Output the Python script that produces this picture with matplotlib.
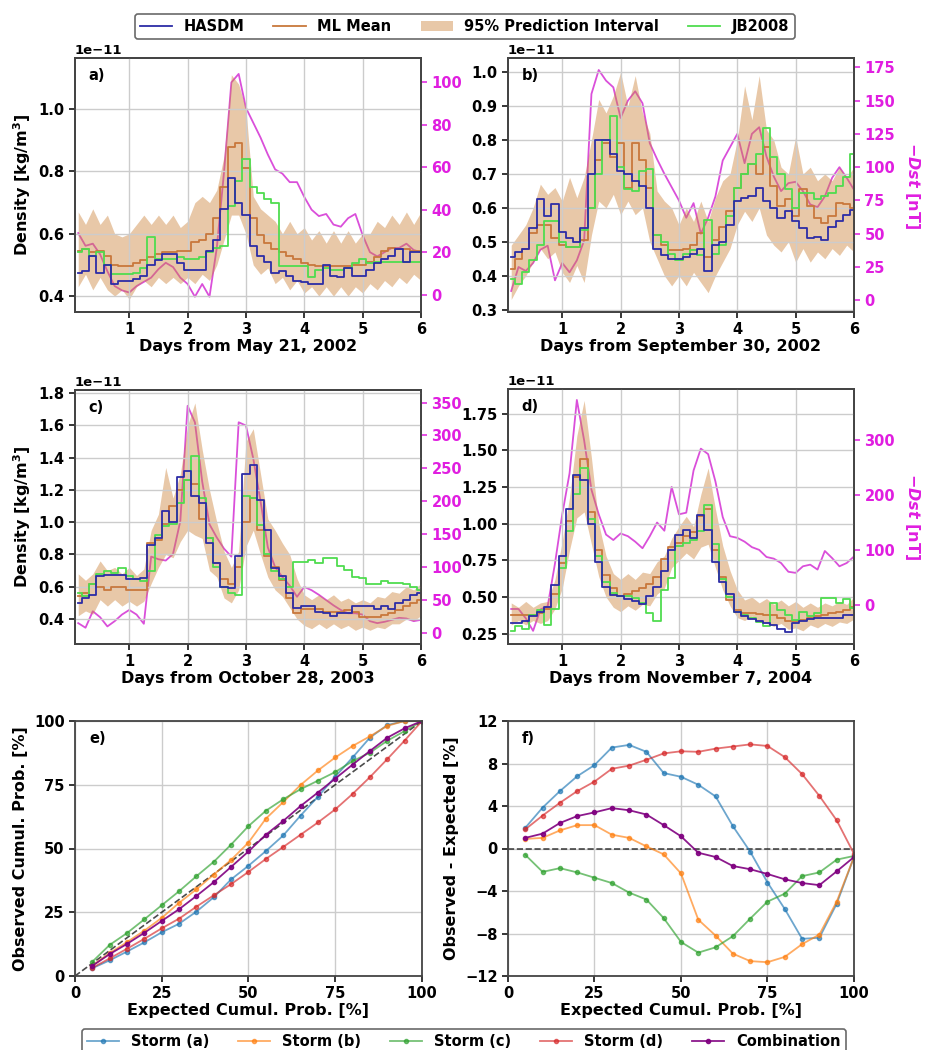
import numpy as np
import matplotlib.pyplot as plt
from matplotlib.lines import Line2D
from matplotlib.patches import Patch

plt.rcParams.update({
    'font.family': 'DejaVu Sans',
    'font.weight': 'bold',
    'axes.labelweight': 'bold',
    'font.size': 10.5,
    'mathtext.fontset': 'custom',
    'mathtext.rm': 'DejaVu Sans:bold',
    'mathtext.it': 'DejaVu Sans:italic:bold',
    'mathtext.bf': 'DejaVu Sans:bold',
})

# 3-hourly time grid (days)
days = np.arange(1, 49) / 8.0

# ---------------- storm a) May 21, 2002 (x1e-11 kg/m3, Dst nT)
hasdm_a = [0.475, 0.48, 0.53, 0.475, 0.50, 0.44, 0.45, 0.45,
           0.455, 0.465, 0.50, 0.515, 0.535, 0.535, 0.505, 0.485,
           0.485, 0.485, 0.545, 0.58, 0.68, 0.78, 0.70, 0.66,
           0.56, 0.53, 0.51, 0.475, 0.48, 0.465, 0.45, 0.445,
           0.44, 0.44, 0.50, 0.465, 0.46, 0.49, 0.465, 0.465,
           0.485, 0.505, 0.52, 0.53, 0.55, 0.51, 0.54, 0.54]
ml_a = [0.545, 0.55, 0.54, 0.545, 0.53, 0.50, 0.495, 0.495,
        0.505, 0.515, 0.525, 0.535, 0.54, 0.54, 0.545, 0.545,
        0.575, 0.58, 0.60, 0.65, 0.75, 0.88, 0.89, 0.81,
        0.65, 0.595, 0.57, 0.55, 0.54, 0.53, 0.52, 0.505,
        0.50, 0.495, 0.495, 0.495, 0.495, 0.495, 0.50, 0.50,
        0.51, 0.525, 0.545, 0.555, 0.55, 0.55, 0.545, 0.545]
jb_a = [0.54, 0.55, 0.53, 0.54, 0.50, 0.47, 0.47, 0.47,
        0.475, 0.49, 0.59, 0.52, 0.52, 0.52, 0.525, 0.52,
        0.52, 0.525, 0.54, 0.555, 0.56, 0.69, 0.77, 0.84,
        0.75, 0.73, 0.71, 0.70, 0.495, 0.495, 0.495, 0.495,
        0.46, 0.485, 0.49, 0.485, 0.485, 0.49, 0.505, 0.52,
        0.505, 0.51, 0.51, 0.51, 0.51, 0.51, 0.51, 0.51]
upper_a = [0.67, 0.63, 0.68, 0.63, 0.66, 0.60, 0.59, 0.60,
           0.63, 0.66, 0.63, 0.66, 0.63, 0.66, 0.62, 0.64,
           0.70, 0.72, 0.70, 0.74, 0.85, 1.11, 1.08, 1.00,
           0.72, 0.68, 0.66, 0.64, 0.60, 0.64, 0.60, 0.62,
           0.58, 0.61, 0.57, 0.61, 0.57, 0.61, 0.57, 0.60,
           0.60, 0.64, 0.62, 0.66, 0.63, 0.67, 0.63, 0.67]
lower_a = [0.43, 0.47, 0.42, 0.46, 0.42, 0.40, 0.42, 0.39,
           0.43, 0.45, 0.43, 0.46, 0.44, 0.46, 0.44, 0.46,
           0.44, 0.47, 0.45, 0.50, 0.58, 0.66, 0.66, 0.60,
           0.50, 0.47, 0.49, 0.44, 0.46, 0.42, 0.45, 0.41,
           0.43, 0.40, 0.43, 0.40, 0.43, 0.40, 0.43, 0.41,
           0.44, 0.42, 0.45, 0.43, 0.46, 0.44, 0.47, 0.45]
dst_a = [29, 23, 24, 19, 11, 4, 2, 1,
         4, 6, 8, 12, 15, 13, 8, 5,
         -1, 5, -1, 22, 58, 100, 104, 88,
         81, 74, 66, 59, 57, 53, 53, 46,
         40, 37, 38, 33, 32, 36, 38, 28,
         20, 18, 20, 22, 22, 24, 21, 20]

# ---------------- storm b) September 30, 2002
hasdm_b = [0.455, 0.47, 0.48, 0.54, 0.625, 0.575, 0.61, 0.53,
           0.51, 0.50, 0.54, 0.70, 0.80, 0.80, 0.76, 0.71,
           0.70, 0.68, 0.665, 0.60, 0.48, 0.46, 0.45, 0.45,
           0.455, 0.465, 0.48, 0.415, 0.49, 0.50, 0.55, 0.62,
           0.63, 0.635, 0.66, 0.62, 0.60, 0.57, 0.59, 0.56,
           0.54, 0.51, 0.515, 0.505, 0.545, 0.56, 0.58, 0.595]
ml_b = [0.42, 0.45, 0.48, 0.525, 0.55, 0.55, 0.51, 0.49,
        0.485, 0.485, 0.505, 0.60, 0.74, 0.79, 0.75, 0.79,
        0.66, 0.79, 0.74, 0.66, 0.52, 0.49, 0.475, 0.475,
        0.48, 0.49, 0.525, 0.455, 0.505, 0.545, 0.59, 0.66,
        0.70, 0.73, 0.70, 0.78, 0.665, 0.605, 0.625, 0.575,
        0.655, 0.605, 0.57, 0.555, 0.575, 0.615, 0.61, 0.60]
jb_b = [0.39, 0.375, 0.41, 0.445, 0.49, 0.56, 0.56, 0.50,
        0.485, 0.485, 0.535, 0.60, 0.70, 0.80, 0.87, 0.72,
        0.655, 0.65, 0.71, 0.715, 0.52, 0.50, 0.465, 0.445,
        0.465, 0.475, 0.46, 0.565, 0.465, 0.49, 0.575, 0.66,
        0.70, 0.73, 0.76, 0.835, 0.75, 0.70, 0.655, 0.60,
        0.645, 0.645, 0.625, 0.635, 0.645, 0.665, 0.69, 0.76]
upper_b = [0.49, 0.52, 0.55, 0.60, 0.67, 0.64, 0.66, 0.62,
           0.69, 0.63, 0.69, 0.80, 0.92, 0.88, 0.93, 1.00,
           0.90, 0.99, 0.88, 0.82, 0.65, 0.62, 0.60, 0.55,
           0.60, 0.56, 0.62, 0.56, 0.63, 0.68, 0.70, 0.80,
           0.96, 0.86, 0.99, 0.83, 0.80, 0.72, 0.70, 0.81,
           0.70, 0.72, 0.68, 0.70, 0.68, 0.72, 0.69, 0.72]
lower_b = [0.33, 0.37, 0.40, 0.44, 0.48, 0.45, 0.47, 0.41,
           0.38, 0.43, 0.38, 0.52, 0.62, 0.60, 0.64, 0.58,
           0.62, 0.58, 0.60, 0.50, 0.45, 0.40, 0.37, 0.40,
           0.37, 0.41, 0.38, 0.35, 0.40, 0.44, 0.48, 0.55,
           0.59, 0.56, 0.60, 0.52, 0.49, 0.47, 0.50, 0.44,
           0.48, 0.44, 0.47, 0.45, 0.48, 0.46, 0.49, 0.47]
dst_b = [7, 25, 22, 28, 38, 41, 15, 28,
         21, 30, 45, 155, 173, 165, 160, 137,
         150, 157, 148, 118, 106, 95, 85, 75,
         62, 73, 50, 62, 78, 105, 115, 125,
         103, 125, 130, 108, 93, 82, 88, 89,
         82, 72, 70, 78, 92, 100, 92, 83]

# ---------------- storm c) October 28, 2003
hasdm_c = [0.50, 0.53, 0.55, 0.665, 0.675, 0.675, 0.675, 0.645,
           0.645, 0.655, 0.86, 0.90, 1.07, 1.00, 1.28, 1.315,
           1.16, 1.12, 0.87, 0.75, 0.60, 0.59, 0.79, 1.30,
           1.355, 1.14, 0.95, 0.715, 0.665, 0.56, 0.47, 0.48,
           0.48, 0.445, 0.435, 0.42, 0.44, 0.435, 0.48, 0.48,
           0.48, 0.46, 0.48, 0.46, 0.50, 0.52, 0.55, 0.56]
ml_c = [0.54, 0.56, 0.62, 0.60, 0.58, 0.60, 0.60, 0.58,
        0.58, 0.58, 0.87, 0.89, 0.99, 1.10, 1.20, 1.265,
        1.24, 1.02, 0.90, 0.75, 0.645, 0.62, 0.72, 1.00,
        1.15, 0.95, 0.79, 0.725, 0.64, 0.53, 0.44, 0.46,
        0.46, 0.46, 0.445, 0.445, 0.445, 0.455, 0.445, 0.415,
        0.415, 0.415, 0.425, 0.435, 0.455, 0.48, 0.50, 0.52]
jb_c = [0.56, 0.54, 0.62, 0.68, 0.70, 0.685, 0.715, 0.665,
        0.645, 0.635, 0.70, 0.92, 0.975, 0.99, 1.12, 1.265,
        1.41, 1.15, 0.90, 0.72, 0.60, 0.56, 0.55, 1.16,
        1.15, 0.98, 0.80, 0.70, 0.65, 0.60, 0.755, 0.755,
        0.765, 0.75, 0.78, 0.78, 0.73, 0.705, 0.66, 0.655,
        0.62, 0.62, 0.635, 0.625, 0.625, 0.62, 0.60, 0.58]
upper_c = [0.68, 0.64, 0.68, 0.76, 0.70, 0.72, 0.68, 0.72,
           0.67, 0.71, 0.95, 1.05, 1.34, 1.15, 1.30, 1.60,
           1.74, 1.45, 1.20, 1.00, 0.82, 0.72, 0.82, 1.50,
           1.58, 1.30, 1.02, 0.95, 0.87, 0.80, 0.65, 0.55,
           0.52, 0.55, 0.52, 0.55, 0.51, 0.53, 0.50, 0.52,
           0.50, 0.54, 0.53, 0.57, 0.56, 0.60, 0.58, 0.62]
lower_c = [0.42, 0.45, 0.43, 0.52, 0.48, 0.52, 0.48, 0.51,
           0.48, 0.51, 0.62, 0.72, 0.80, 0.78, 0.88, 0.95,
           0.92, 0.90, 0.70, 0.66, 0.53, 0.50, 0.58, 0.85,
           0.95, 0.80, 0.66, 0.58, 0.54, 0.47, 0.40, 0.36,
           0.34, 0.37, 0.34, 0.37, 0.34, 0.36, 0.33, 0.35,
           0.33, 0.35, 0.34, 0.37, 0.37, 0.40, 0.39, 0.42]
dst_c = [15, 8, 33, 24, 10, 18, 28, 35,
         28, 14, 116, 112, 110, 120, 170, 345,
         320, 230, 165, 145, 128, 116, 320, 315,
         265, 200, 130, 100, 85, 72, 55, 70,
         65, 58, 50, 42, 35, 30, 30, 28,
         18, 15, 17, 20, 23, 22, 18, 20]

# ---------------- storm d) November 7, 2004
hasdm_d = [0.32, 0.325, 0.335, 0.37, 0.40, 0.435, 0.58, 0.78,
           1.10, 1.33, 1.30, 1.00, 0.74, 0.57, 0.515, 0.505,
           0.49, 0.47, 0.45, 0.505, 0.57, 0.68, 0.82, 0.925,
           0.96, 0.90, 1.06, 0.96, 0.74, 0.60, 0.52, 0.40,
           0.37, 0.35, 0.34, 0.325, 0.31, 0.28, 0.265, 0.32,
           0.34, 0.35, 0.355, 0.355, 0.355, 0.36, 0.375, 0.38]
ml_d = [0.38, 0.38, 0.38, 0.38, 0.39, 0.42, 0.52, 0.73,
        1.02, 1.32, 1.44, 1.08, 0.82, 0.65, 0.56, 0.505,
        0.52, 0.54, 0.565, 0.59, 0.64, 0.76, 0.84, 0.87,
        0.915, 0.94, 1.05, 1.10, 0.82, 0.64, 0.48, 0.41,
        0.39, 0.39, 0.385, 0.38, 0.375, 0.355, 0.335, 0.335,
        0.345, 0.355, 0.37, 0.38, 0.39, 0.40, 0.415, 0.435]
jb_d = [0.27, 0.30, 0.28, 0.38, 0.41, 0.31, 0.42, 0.70,
        0.95, 1.20, 1.38, 1.03, 0.78, 0.60, 0.53, 0.505,
        0.505, 0.495, 0.46, 0.39, 0.34, 0.55, 0.63, 0.845,
        0.87, 0.89, 0.95, 1.13, 0.86, 0.62, 0.50, 0.40,
        0.38, 0.36, 0.33, 0.30, 0.46, 0.415, 0.38, 0.345,
        0.40, 0.37, 0.39, 0.495, 0.495, 0.46, 0.485, 0.425]
upper_d = [0.46, 0.43, 0.47, 0.43, 0.46, 0.47, 0.62, 0.88,
           1.18, 1.60, 1.84, 1.45, 1.00, 0.78, 0.66, 0.62,
           0.66, 0.62, 0.67, 0.66, 0.74, 0.78, 0.90, 0.98,
           1.05, 0.98, 1.20, 1.38, 1.10, 0.85, 0.68, 0.55,
           0.48, 0.50, 0.46, 0.49, 0.45, 0.48, 0.44, 0.47,
           0.43, 0.46, 0.43, 0.46, 0.44, 0.47, 0.45, 0.50]
lower_d = [0.31, 0.34, 0.31, 0.34, 0.32, 0.34, 0.42, 0.56,
           0.82, 1.04, 1.08, 0.86, 0.64, 0.50, 0.43, 0.40,
           0.44, 0.41, 0.45, 0.44, 0.52, 0.56, 0.70, 0.75,
           0.80, 0.76, 0.84, 0.86, 0.70, 0.55, 0.44, 0.36,
           0.34, 0.37, 0.33, 0.32, 0.30, 0.32, 0.28, 0.29,
           0.27, 0.31, 0.29, 0.32, 0.30, 0.33, 0.32, 0.35]
dst_d = [-8, -8, -25, -48, -9, -3, 75, 165,
         240, 374, 300, 210, 165, 128, 118, 130,
         125, 115, 103, 125, 150, 135, 215, 165,
         168, 245, 285, 275, 225, 160, 125, 122,
         115, 105, 100, 87, 84, 76, 60, 58,
         70, 73, 64, 98, 85, 70, 76, 88]

# ---------------- calibration (e, f)
expected = [5, 10, 15, 20, 25, 30, 35, 40, 45, 50,
            55, 60, 65, 70, 75, 80, 85, 90, 95, 100]
diff_a = [1.95, 3.85, 5.4, 6.8, 7.85, 9.5, 9.75, 9.1, 7.1, 6.75,
          6.0, 4.9, 2.1, -0.3, -3.2, -5.7, -8.5, -8.4, -5.2, -0.8]
diff_b = [0.9, 1.0, 1.7, 2.2, 2.2, 1.3, 1.0, 0.2, -0.55, -2.35,
          -6.7, -8.2, -9.9, -10.6, -10.7, -10.2, -9.0, -8.1, -5.0, -0.8]
diff_c = [-0.6, -2.2, -1.85, -2.25, -2.75, -3.25, -4.15, -4.8, -6.55, -8.8,
          -9.8, -9.3, -8.25, -6.6, -5.0, -4.25, -2.6, -2.25, -1.05, -0.7]
diff_d = [1.8, 3.1, 4.3, 5.4, 6.3, 7.5, 7.8, 8.35, 8.95, 9.15,
          9.1, 9.4, 9.6, 9.8, 9.65, 8.6, 7.0, 4.95, 2.65, -0.5]
diff_all = [1.0, 1.4, 2.4, 3.05, 3.4, 3.8, 3.6, 3.2, 2.2, 1.15,
            -0.4, -0.8, -1.65, -1.95, -2.4, -2.9, -3.25, -3.45, -2.15, -0.8]

C_HASDM = '#2c2ca6'
C_ML = '#c8783c'
C_BAND = 'peru'
C_JB = '#4fdc4f'
C_DST = '#d63cd6'
C_DST_TXT = '#e01ee0'
SPINE = '#444444'

W, H = 933, 1050
fig = plt.figure(figsize=(W / 100, H / 100), dpi=100)


def box(l, t, r, b):
    return [l / W, 1 - b / H, (r - l) / W, (b - t) / H]


def style(ax):
    for s in ax.spines.values():
        s.set_color(SPINE)
        s.set_linewidth(1.3)
    ax.tick_params(width=1.1, length=4)


def storm_panel(rect, tag, hasdm, ml, lo, hi, jb, dst, xlabel,
                dens_ticks, dens_lim, dst_ticks, dst_lim, left_lab, right_lab):
    ax = fig.add_axes(rect)
    ax2 = ax.twinx()
    ax2.plot(days, dst, color=C_DST, lw=1.3, alpha=0.9)
    ax2.set_ylim(*dst_lim)
    ax2.set_yticks(dst_ticks)
    ax2.tick_params(axis='y', colors=C_DST_TXT, width=1.1, length=4)
    if right_lab:
        ax2.set_ylabel(r'$-Dst$ [nT]', color=C_DST_TXT, rotation=270,
                       va='bottom', fontsize=11.5, labelpad=6)
    ax.set_zorder(ax2.get_zorder() + 1)
    ax.patch.set_visible(False)

    sc = 1e-11
    ax.fill_between(days, np.array(lo) * sc, np.array(hi) * sc,
                    color=C_BAND, alpha=0.45, lw=0)
    ax.plot(days, np.array(ml) * sc, color=C_ML, lw=1.3, drawstyle='steps-mid')
    ax.plot(days, np.array(jb) * sc, color=C_JB, lw=1.3, drawstyle='steps-mid')
    ax.plot(days, np.array(hasdm) * sc, color=C_HASDM, lw=1.3, drawstyle='steps-mid')
    ax.set_xlim(0.07, 6)
    ax.set_xticks([1, 2, 3, 4, 5, 6])
    ax.set_yticks(np.array(dens_ticks) * sc)
    ax.set_ylim(dens_lim[0] * sc, dens_lim[1] * sc)
    ax.yaxis.get_offset_text().set_fontsize(9.5)
    ax.grid(True, color='#cccccc', lw=1)
    ax.set_xlabel(xlabel, fontsize=11.5, labelpad=1)
    if left_lab:
        ax.set_ylabel(r'Density [kg/m$^3$]', fontsize=11.5)
    ax.text(0.04, 0.93, tag, transform=ax.transAxes, fontsize=10.5,
            fontweight='bold', va='center')
    style(ax)
    style(ax2)
    return ax


storm_panel(box(75, 58, 421, 312), 'a)', hasdm_a, ml_a, lower_a, upper_a, jb_a, dst_a,
            'Days from May 21, 2002', [0.4, 0.6, 0.8, 1.0], (0.349, 1.164),
            [0, 20, 40, 60, 80, 100], (-8.2, 111.5), True, False)
storm_panel(box(508, 58, 854, 312), 'b)', hasdm_b, ml_b, lower_b, upper_b, jb_b, dst_b,
            'Days from September 30, 2002', [0.3, 0.4, 0.5, 0.6, 0.7, 0.8, 0.9, 1.0],
            (0.293, 1.042), [0, 25, 50, 75, 100, 125, 150, 175], (-8.8, 182), False, True)
storm_panel(box(75, 390, 421, 644), 'c)', hasdm_c, ml_c, lower_c, upper_c, jb_c, dst_c,
            'Days from October 28, 2003', [0.4, 0.6, 0.8, 1.0, 1.2, 1.4, 1.6, 1.8],
            (0.245, 1.82), [0, 50, 100, 150, 200, 250, 300, 350], (-16.7, 369), True, False)
storm_panel(box(508, 389, 854, 644), 'd)', hasdm_d, ml_d, lower_d, upper_d, jb_d, dst_d,
            'Days from November 7, 2004', [0.25, 0.5, 0.75, 1.0, 1.25, 1.5, 1.75],
            (0.18, 1.918), [0, 100, 200, 300], (-72, 394), False, True)

# calibration panels
series = [('Storm (a)', diff_a, 'tab:blue', 0.65),
          ('Storm (b)', diff_b, 'tab:orange', 0.65),
          ('Storm (c)', diff_c, 'tab:green', 0.65),
          ('Storm (d)', diff_d, 'tab:red', 0.65),
          ('Combination', diff_all, 'purple', 0.9)]
x_exp = np.array(expected)

axe = fig.add_axes(box(75, 721, 422, 976))
axe.plot([0, 100], [0, 100], 'k--', lw=1.2, alpha=0.7)
for name, d, c, a in series:
    obs = np.clip(x_exp - np.array(d), 0, 100)
    axe.plot(x_exp, obs, '-o', color=c, alpha=a, lw=1.3, ms=3)
axe.set_xlim(0, 100)
axe.set_ylim(0, 100)
axe.set_xticks([0, 25, 50, 75, 100])
axe.set_yticks([0, 25, 50, 75, 100])
axe.grid(True, color='#cccccc', lw=1)
axe.set_xlabel('Expected Cumul. Prob. [%]', fontsize=11.5, labelpad=1)
axe.set_ylabel('Observed Cumul. Prob. [%]', fontsize=11.5)
axe.text(0.04, 0.93, 'e)', transform=axe.transAxes, fontsize=10.5,
         fontweight='bold', va='center')
style(axe)

axf = fig.add_axes(box(508, 721, 854, 976))
axf.axhline(0, color='k', ls='--', lw=1.2, alpha=0.7)
handles = []
for name, d, c, a in series:
    h, = axf.plot(x_exp, d, '-o', color=c, alpha=a, lw=1.3, ms=3, label=name)
    handles.append(h)
axf.set_xlim(0, 100)
axf.set_ylim(-12, 12)
axf.set_xticks([0, 25, 50, 75, 100])
axf.set_yticks([-12, -8, -4, 0, 4, 8, 12])
axf.grid(True, color='#cccccc', lw=1)
axf.set_xlabel('Expected Cumul. Prob. [%]', fontsize=11.5, labelpad=1)
axf.set_ylabel('Observed - Expected [%]', fontsize=11.5)
axf.text(0.04, 0.93, 'f)', transform=axf.transAxes, fontsize=10.5,
         fontweight='bold', va='center')
style(axf)

top_handles = [Line2D([], [], color=C_HASDM, lw=1.3),
               Line2D([], [], color=C_ML, lw=1.3),
               Patch(facecolor=C_BAND, alpha=0.45),
               Line2D([], [], color=C_JB, lw=1.3)]
lg1 = fig.legend(top_handles, ['HASDM', 'ML Mean', '95% Prediction Interval', 'JB2008'],
                 loc='upper center', bbox_to_anchor=(0.498, 0.9935), ncol=4,
                 fontsize=10.5, columnspacing=2.0, handlelength=2.2,
                 fancybox=True, edgecolor=SPINE, borderpad=0.35)
lg1.get_frame().set_linewidth(1.2)

lg2 = fig.legend(handles, [s[0] for s in series], loc='upper center',
                 bbox_to_anchor=(0.497, 1 - 1022 / H), ncol=5, fontsize=10.5,
                 columnspacing=2.0, handlelength=2.2, fancybox=True,
                 edgecolor=SPINE, borderpad=0.35)
lg2.get_frame().set_linewidth(1.2)

fig.savefig('out.png', dpi=100)
